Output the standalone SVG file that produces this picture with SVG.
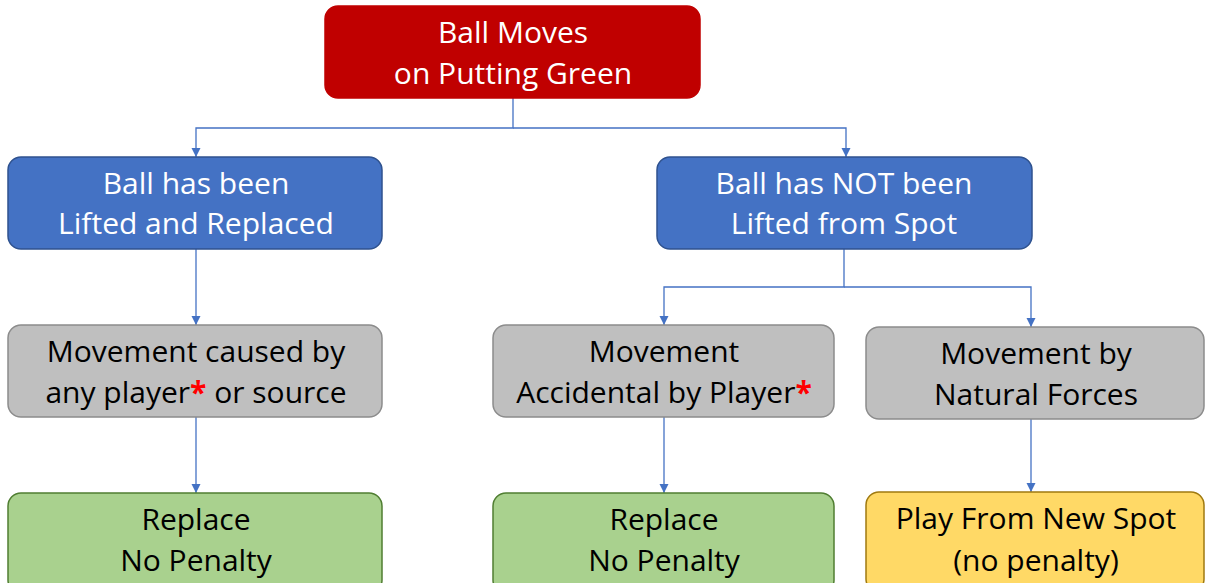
<svg xmlns="http://www.w3.org/2000/svg" width="1205" height="583" viewBox="0 0 1205 583">
<style>
text{font-family:"Open Sans","Liberation Sans",sans-serif;font-size:30px;text-anchor:middle}
.w{fill:#fff}.k{fill:#000}.ast{fill:#ff0000;font-weight:bold}
.red{fill:#C00000;stroke:#C00000;stroke-width:1.5}
.blue{fill:#4472C4;stroke:#2F528F;stroke-width:1.5}
.gray{fill:#BFBFBF;stroke:#8C8C8C;stroke-width:1.5}
.green{fill:#A9D18E;stroke:#507E32;stroke-width:1.5}
.yellow{fill:#FFD966;stroke:#A07A10;stroke-width:1.5}
.c{fill:none;stroke:#4472C4;stroke-width:1.3}
</style>
<defs>
<marker id="ah" markerWidth="11" markerHeight="11" refX="9" refY="4.5" orient="auto" markerUnits="userSpaceOnUse"><path d="M0,0 L9,4.5 L0,9 Z" fill="#4472C4"/></marker>
</defs>
<rect width="1205" height="583" fill="#fff"/>
<g id="connectors">
<path class="c" d="M513,98 V128 H196 V157" marker-end="url(#ah)"/>
<path class="c" d="M513,128 H846 V157" marker-end="url(#ah)"/>
<path class="c" d="M196,249 V325" marker-end="url(#ah)"/>
<path class="c" d="M844,249 V287 H664 V325" marker-end="url(#ah)"/>
<path class="c" d="M844,287 H1031 V327" marker-end="url(#ah)"/>
<path class="c" d="M196,417 V493" marker-end="url(#ah)"/>
<path class="c" d="M664,417 V493" marker-end="url(#ah)"/>
<path class="c" d="M1031,419 V492" marker-end="url(#ah)"/>
</g>
<g id="n-top"><rect class="red" x="325" y="6" width="375" height="92" rx="13"/><text class="w" x="513" y="43">Ball Moves</text><text class="w" x="513" y="84">on Putting Green</text></g>
<g id="n-lifted"><rect class="blue" x="8" y="157" width="374" height="92" rx="13"/><text class="w" x="196" y="194">Ball has been</text><text class="w" x="196" y="234">Lifted and Replaced</text></g>
<g id="n-notlifted"><rect class="blue" x="657" y="157" width="375" height="92" rx="13"/><text class="w" x="844" y="194">Ball has NOT been</text><text class="w" x="844" y="234">Lifted from Spot</text></g>
<g id="n-any"><rect class="gray" x="8" y="325" width="374" height="92" rx="13"/><text class="k" x="196" y="362">Movement caused by</text><text class="k" x="196" y="403">any player<tspan class="ast">*</tspan> or source</text></g>
<g id="n-accident"><rect class="gray" x="493" y="325" width="341" height="92" rx="13"/><text class="k" x="664" y="362">Movement</text><text class="k" x="664" y="403">Accidental by Player<tspan class="ast">*</tspan></text></g>
<g id="n-natural"><rect class="gray" x="866" y="327" width="338" height="92" rx="13"/><text class="k" x="1036" y="364">Movement by</text><text class="k" x="1036" y="405">Natural Forces</text></g>
<g id="n-replace1"><rect class="green" x="8" y="493" width="374" height="100" rx="13"/><text class="k" x="196" y="530">Replace</text><text class="k" x="196" y="571">No Penalty</text></g>
<g id="n-replace2"><rect class="green" x="493" y="493" width="341" height="100" rx="13"/><text class="k" x="664" y="530">Replace</text><text class="k" x="664" y="571">No Penalty</text></g>
<g id="n-play"><rect class="yellow" x="866" y="492" width="338" height="100" rx="13"/><text class="k" x="1036" y="529">Play From New Spot</text><text class="k" x="1036" y="571">(no penalty)</text></g>
</svg>
